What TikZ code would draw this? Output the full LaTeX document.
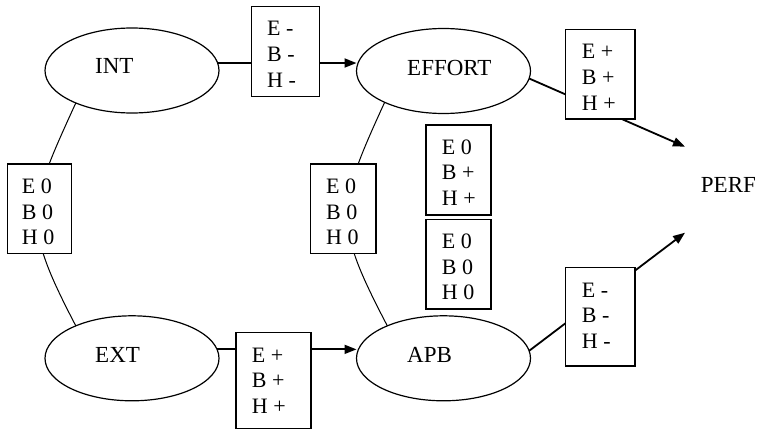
\documentclass[tikz,border=0pt]{standalone}
\usepackage{fontspec}
\setmainfont{Liberation Serif}
\usetikzlibrary{arrows.meta,shapes.geometric}
\begin{document}
\begin{tikzpicture}[x=1pt,y=-1pt,
  ell/.style={draw, ellipse, line width=1.2pt, minimum width=174pt, minimum height=85pt, inner sep=0pt, outer sep=0pt},
  lbl/.style={anchor=base west, inner sep=0pt, font=\fontsize{23}{27}\selectfont},
  box/.style={draw, fill=white, line width=1.3pt, anchor=north west, inner sep=0pt, outer sep=0pt},
  btxt/.style={anchor=north west, inner sep=0pt, align=left, font=\fontsize{22}{25.7}\selectfont},
  thinconn/.style={line width=1pt},
  conn/.style={line width=1.8pt},
  arr/.style={conn, -{Triangle[length=12pt,width=9pt]}}
]
\useasboundingbox (0,0) rectangle (762,436);

% ellipses
\node[ell] (int) at (132,70.5) {};
\node[ell] (eff) at (443.5,71) {};
\node[ell] (ext) at (132,358.3) {};
\node[ell] (apb) at (443.5,358.3) {};

\node[lbl] (intl) at (95,74) {INT};
\node[lbl] (effl) at (407,75) {EFFORT};
\node[lbl] (extl) at (95,362.3) {EXT};
\node[lbl] (apbl) at (407,362.3) {APB};
\node[lbl] (perf) at (700.7,192.7) {PERF};

% connectors
\coordinate (t1) at (685,146.7);
\coordinate (t2) at (685,232.7);
\draw[arr] (int.5) -- (int.5 -| eff.west);
\draw[arr] (ext.6) -- (ext.6 -| apb.west);
\draw[arr] (eff.-5) -- (t1);
\draw[arr] (apb.5) -- (t2);
\draw[thinconn] (int.210) .. controls +(-48.7,106.4) and +(-54.1,-103.8) .. (ext.150);
\draw[thinconn] (eff.208) .. controls +(-48.7,106.4) and +(-54.1,-103.8) .. (apb.150);

% boxes
\node[box, minimum width=67.6pt, minimum height=90pt] (b1) at (251.7,6.7) {};
\node[box, minimum width=64.4pt, minimum height=89.3pt] (b2) at (7.3,164) {};
\node[box, minimum width=65.3pt, minimum height=89.3pt] (b3) at (310.7,164) {};
\node[box, minimum width=65pt, minimum height=90pt] (b4) at (426,125) {};
\node[box, minimum width=65pt, minimum height=89.7pt] (b5) at (426,219.3) {};
\node[box, minimum width=69.3pt, minimum height=89.7pt] (b6) at (565.7,29.3) {};
\node[box, minimum width=69.3pt, minimum height=98.3pt] (b7) at (565.7,267.7) {};
\node[box, minimum width=75pt, minimum height=96pt] (b8) at (236,332.3) {};

\node[btxt] (b1t) at (267,21) {E -\\B -\\H -};
\node[btxt] (b2t) at (21.7,178.6) {E 0\\B 0\\H 0};
\node[btxt] (b3t) at (326,178.6) {E 0\\B 0\\H 0};
\node[btxt] (b4t) at (441.7,139.3) {E 0\\B +\\H +};
\node[btxt] (b5t) at (441.7,233.6) {E 0\\B 0\\H 0};
\node[btxt] (b6t) at (581.7,44.3) {E +\\B +\\H +};
\node[btxt] (b7t) at (581.7,282.6) {E -\\B -\\H -};
\node[btxt] (b8t) at (251.7,347.6) {E +\\B +\\H +};
\end{tikzpicture}
\end{document}
